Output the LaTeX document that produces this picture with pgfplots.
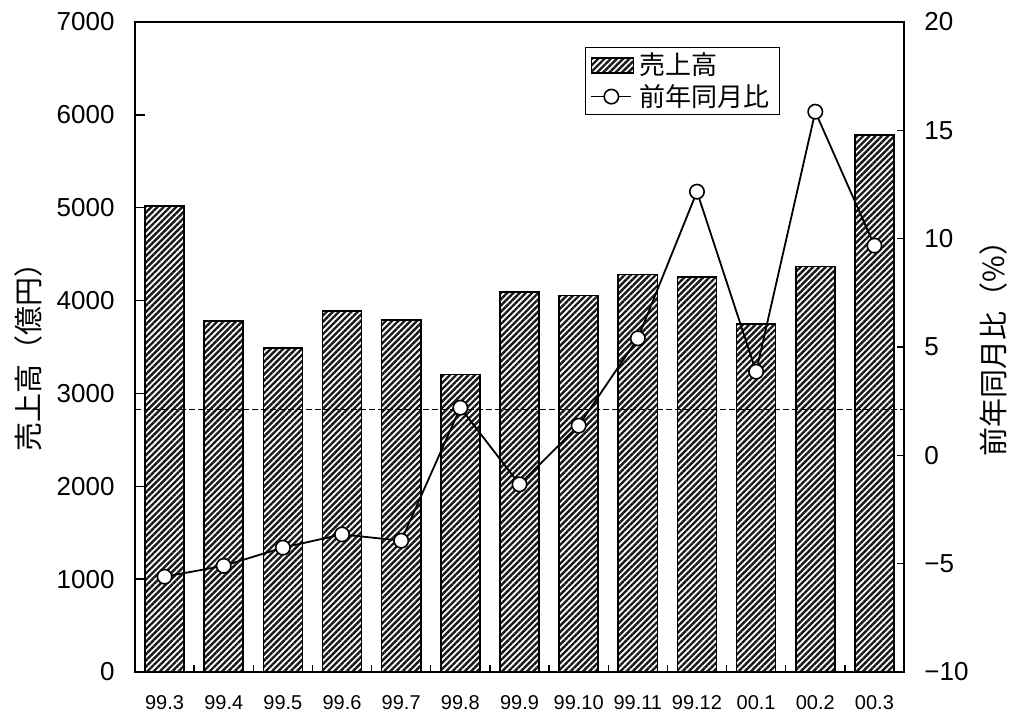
\documentclass[border=0pt]{standalone}
\usepackage{fontspec}
\setmainfont{Liberation Sans}
\newfontfamily\jp{Noto Sans CJK JP}
\usepackage{pgfplots}
\usepackage{pgfplotstable}
\pgfplotsset{compat=1.18}
\usetikzlibrary{patterns.meta}

% monthly sales (100 million yen) and year-on-year change (%)
\pgfplotstableread{
x sales yoy
0  5020 -5.60
1  3780 -5.10
2  3490 -4.26
3  3885 -3.65
4  3790 -3.94
5  3205  2.20
6  4090 -1.34
7  4055  1.37
8  4280  5.40
9  4255 12.17
10 3745  3.86
11 4365 15.86
12 5780  9.68
}\salesdata

\tikzset{
  salesbar/.style={draw=black, line width=0.8pt, fill=white,
    postaction={pattern={Lines[angle=45,distance=2.2pt,line width=1.2pt]},
                pattern color=black!90}},
  yoyline/.style={black, line width=0.9pt, mark=*, mark size=3.6pt,
    mark options={fill=white, draw=black, line width=0.8pt, solid}},
}
\pgfplotsset{
  barlegend/.style={legend image code/.code={
    \draw[##1] (0pt,-3.75pt) rectangle (21pt,3.75pt);}},
  linelegend/.style={legend image code/.code={
    \draw[##1, mark repeat=2, mark phase=2]
      plot coordinates {(0pt,0pt) (10pt,0pt) (20pt,0pt)};}},
}

\begin{document}
\begin{tikzpicture}
\useasboundingbox (-67.5pt,-20.5pt) rectangle (440pt,336pt);

% left axis: sales bars
\begin{axis}[
  scale only axis, width=384.5pt, height=325pt,
  at={(0,0)}, anchor=south west,
  xmin=-0.5, xmax=12.5, ymin=0, ymax=7000,
  axis line style={line width=0.8pt},
  tick align=inside, major tick length=5pt,
  ytick pos=left,
  ytick={0,1000,...,7000},
  scaled y ticks=false,
  /pgf/number format/1000 sep={},
  /pgf/number format/assume math mode=true,
  yticklabel style={font=\fontsize{13}{15}\selectfont, xshift=-6.7pt},
  xtick={0,...,12},
  xticklabels={99.3,99.4,99.5,99.6,99.7,99.8,99.9,99.10,99.11,99.12,00.1,00.2,00.3},
  xtick style={draw=none},
  xticklabel style={font=\fontsize{10}{11}\selectfont, yshift=-8pt},
  tick style={black, line width=0.7pt},
  ylabel={売上高（億円）},
  ylabel style={font=\jp\fontsize{14.5}{16}\selectfont,
    at={(axis description cs:-0.139,0.495)}, anchor=center},
]
\addplot[ybar, bar width=0.66, salesbar] table[x=x, y=sales] {\salesdata};
\addplot[black, line width=0.55pt, dash pattern=on 3pt off 1.5pt, forget plot]
  coordinates {(-0.5,2830) (12.5,2830)};
\end{axis}

% right axis: year-on-year line
\begin{axis}[
  scale only axis, width=384.5pt, height=325pt,
  at={(0,0)}, anchor=south west,
  xmin=-0.5, xmax=12.5, ymin=-10, ymax=20,
  axis y line*=right, axis x line*=bottom,
  axis line style={line width=0.8pt},
  tick align=inside, major tick length=3.5pt,
  tick style={black, line width=0.7pt},
  xtick={0.5,1.5,...,11.5}, xticklabels={},
  ytick={-10,-5,...,20},
  yticklabels={−10,−5,0,5,10,15,20},
  yticklabel style={font=\fontsize{13}{15}\selectfont, xshift=6.7pt},
  ylabel={前年同月比（\%）},
  ylabel style={font=\jp\fontsize{14.5}{16}\selectfont,
    at={(axis description cs:1.1157,0.508)}, anchor=center},
  legend style={at={(0.585,0.9615)}, anchor=north west,
    draw=black, line width=0.6pt,
    font=\jp\fontsize{13}{15}\selectfont,
    inner xsep=2.5pt, inner ysep=1pt,
    nodes={inner xsep=2.6pt, inner ysep=1.6pt},
    cells={anchor=west}},
]
\addlegendimage{salesbar, barlegend}
\addlegendentry{売上高}
\addplot[yoyline, linelegend] table[x=x, y=yoy] {\salesdata};
\addlegendentry{前年同月比}
\end{axis}
\end{tikzpicture}
\end{document}
